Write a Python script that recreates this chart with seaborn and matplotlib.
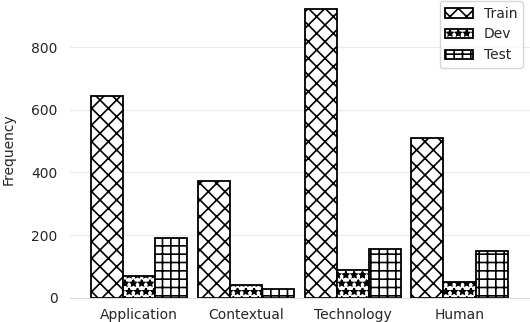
"""Frequency of categories per data split."""

import matplotlib
matplotlib.use("Agg")
import matplotlib.pyplot as plt
import seaborn as sns
import pandas as pd

categories = ["Application", "Contextual", "Technology", "Human"]
splits = ["Train", "Dev", "Test"]
train_counts = [643, 374, 922, 509]
dev_counts = [70, 42, 90, 51]
test_counts = [192, 29, 157, 150]

hatches = {"Train": "xx", "Dev": "**", "Test": "++"}

rows = []
for split, counts in zip(splits, [train_counts, dev_counts, test_counts]):
    for cat, val in zip(categories, counts):
        rows.append({"Category": cat, "Split": split, "Frequency": val})
df = pd.DataFrame(rows)

sns.set_style("whitegrid")
plt.rcParams["hatch.linewidth"] = 1.2
plt.rcParams["font.family"] = ["DejaVu Sans"]

fig, ax = plt.subplots(figsize=(5.3, 3.22), dpi=100)
sns.barplot(
    data=df, x="Category", y="Frequency", hue="Split",
    palette={s: "white" for s in splits}, edgecolor="black",
    linewidth=1.3, width=0.9, ax=ax,
)

# Hatch each bar by split
for container, split in zip(ax.containers, splits):
    for bar in container:
        bar.set_hatch(hatches[split])

ax.legend(loc="upper right", fontsize=10, bbox_to_anchor=(1.0, 1.02))
for handle, split in zip(ax.get_legend().legend_handles, splits):
    handle.set_hatch(hatches[split])
    handle.set_edgecolor("black")

ax.set_xlim(-0.645, 3.66)
ax.set_ylim(0, 950)
ax.set_yticks([0, 200, 400, 600, 800])
ax.set_xlabel("")
ax.set_ylabel("Frequency", fontsize=10, labelpad=11)
ax.tick_params(labelsize=10, length=0)
ax.tick_params(axis="x", pad=7)
ax.tick_params(axis="y", pad=9)
ax.xaxis.grid(False)
ax.yaxis.grid(True, color="#ebebeb", linewidth=0.8)
ax.set_axisbelow(True)
sns.despine(left=True, bottom=True)
ax.spines["bottom"].set_visible(True)
ax.spines["bottom"].set_color("#dddddd")

fig.subplots_adjust(left=0.132, right=1.0, bottom=0.075, top=1.0)
fig.savefig("out.png", dpi=100)
